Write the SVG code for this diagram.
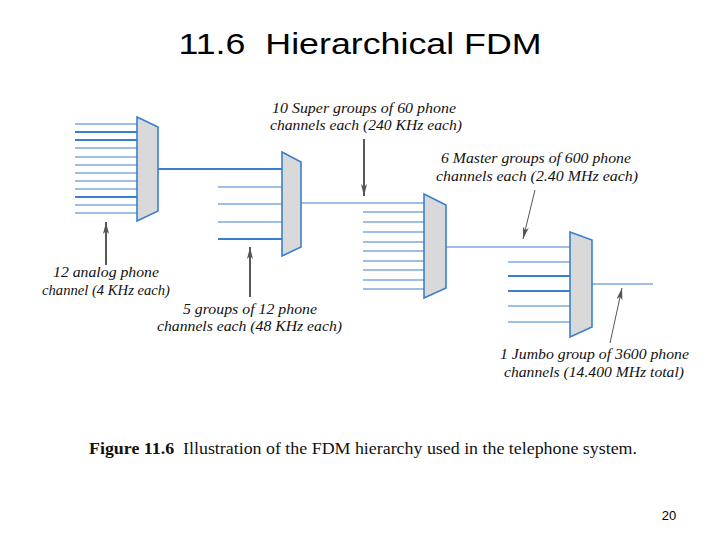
<svg xmlns="http://www.w3.org/2000/svg" width="720" height="540" viewBox="0 0 720 540">
<defs>
<style>
.ch{stroke:#3a7fcf;stroke-width:1.2;fill:none}
.thk{stroke-width:2.2}
.mux{fill:#d9d9d9;stroke:#3a7fcf;stroke-width:1.6}
.lbl{font-family:"Liberation Serif","Times New Roman",serif;font-style:italic;font-size:14.5px;fill:#111}
.arr{stroke:#111;stroke-width:1.4;fill:none}
.arrg{stroke:#555;stroke-width:1;fill:none}
</style>
<marker id="ah" viewBox="0 0 12 6" refX="12" refY="3" markerWidth="12" markerHeight="6" markerUnits="userSpaceOnUse" orient="auto">
<path d="M0,0 L12,3 L0,6 L3,3 z" fill="#555"/>
</marker>
</defs>
<rect width="720" height="540" fill="#fff"/>
<text xml:space="preserve" x="360" y="54" text-anchor="middle" font-family="Liberation Sans, Arial, sans-serif" font-size="30" textLength="363" lengthAdjust="spacingAndGlyphs" fill="#000">11.6  Hierarchical FDM</text>

<g id="connectors">
<line class="ch" x1="75" y1="124" x2="137" y2="124"/>
<line class="ch thk" x1="75" y1="132" x2="137" y2="132"/>
<line class="ch thk" x1="75" y1="140" x2="137" y2="140"/>
<line class="ch" x1="75" y1="148" x2="137" y2="148"/>
<line class="ch" x1="75" y1="157" x2="137" y2="157"/>
<line class="ch" x1="75" y1="165" x2="137" y2="165"/>
<line class="ch" x1="75" y1="173" x2="137" y2="173"/>
<line class="ch" x1="75" y1="181" x2="137" y2="181"/>
<line class="ch" x1="75" y1="189" x2="137" y2="189"/>
<line class="ch thk" x1="75" y1="197" x2="137" y2="197"/>
<line class="ch" x1="75" y1="205" x2="137" y2="205"/>
<line class="ch" x1="75" y1="213" x2="137" y2="213"/>
<line class="ch thk" x1="158" y1="169" x2="282" y2="169"/>
<line class="ch" x1="218" y1="187" x2="282" y2="187"/>
<line class="ch" x1="218" y1="204" x2="282" y2="204"/>
<line class="ch" x1="218" y1="222" x2="282" y2="222"/>
<line class="ch thk" x1="218" y1="239" x2="282" y2="239"/>
<line class="ch" x1="301" y1="203" x2="424" y2="203"/>
<line class="ch" x1="363" y1="212" x2="424" y2="212"/>
<line class="ch" x1="363" y1="222" x2="424" y2="222"/>
<line class="ch" x1="363" y1="232" x2="424" y2="232"/>
<line class="ch" x1="363" y1="242" x2="424" y2="242"/>
<line class="ch" x1="363" y1="251" x2="424" y2="251"/>
<line class="ch" x1="363" y1="261" x2="424" y2="261"/>
<line class="ch" x1="363" y1="270" x2="424" y2="270"/>
<line class="ch" x1="363" y1="280" x2="424" y2="280"/>
<line class="ch" x1="363" y1="289" x2="424" y2="289"/>
<line class="ch" x1="446" y1="247" x2="570" y2="247"/>
<line class="ch" x1="508" y1="262" x2="570" y2="262"/>
<line class="ch thk" x1="508" y1="276" x2="570" y2="276"/>
<line class="ch thk" x1="508" y1="291" x2="570" y2="291"/>
<line class="ch" x1="508" y1="306" x2="570" y2="306"/>
<line class="ch" x1="508" y1="322" x2="570" y2="322"/>
<line class="ch" x1="592" y1="284" x2="653" y2="284"/>
<line class="arr" x1="364" y1="139" x2="364" y2="196" marker-end="url(#ah)"/>
<line class="arrg" x1="535" y1="190" x2="523" y2="239" marker-end="url(#ah)"/>
<line class="arrg" x1="610" y1="343" x2="622" y2="288" marker-end="url(#ah)"/>
<line class="arr" x1="106" y1="265" x2="106" y2="222" marker-end="url(#ah)"/>
<line class="arr" x1="250" y1="297" x2="250" y2="247" marker-end="url(#ah)"/>
</g>

<g id="mux1"><polygon class="mux" points="137,117 158,127 158,211 137,221"/></g>
<g id="mux2"><polygon class="mux" points="282,152 301,162 301,247 282,256"/></g>
<g id="mux3"><polygon class="mux" points="424,194 446,205 446,288 424,298"/></g>
<g id="mux4"><polygon class="mux" points="570,232 592,240 592,327 570,337"/></g>

<g id="label-super">
<text class="lbl" x="272" y="113" textLength="184" lengthAdjust="spacingAndGlyphs">10 Super groups of 60 phone</text>
<text class="lbl" x="270" y="130" textLength="192" lengthAdjust="spacingAndGlyphs">channels each (240 KHz each)</text>
</g>
<g id="label-master">
<text class="lbl" x="441" y="163" textLength="190" lengthAdjust="spacingAndGlyphs">6 Master groups of 600 phone</text>
<text class="lbl" x="436" y="181" textLength="202" lengthAdjust="spacingAndGlyphs">channels each (2.40 MHz each)</text>
</g>
<g id="label-jumbo">
<text class="lbl" x="500" y="359" textLength="189" lengthAdjust="spacingAndGlyphs">1 Jumbo group of 3600 phone</text>
<text class="lbl" x="504" y="377" textLength="180" lengthAdjust="spacingAndGlyphs">channels (14.400 MHz total)</text>
</g>
<g id="label-analog">
<text class="lbl" x="53" y="277" textLength="106" lengthAdjust="spacingAndGlyphs">12 analog phone</text>
<text class="lbl" x="42" y="295" textLength="128" lengthAdjust="spacingAndGlyphs">channel (4 KHz each)</text>
</g>
<g id="label-groups">
<text class="lbl" x="183" y="314" textLength="134" lengthAdjust="spacingAndGlyphs">5 groups of 12 phone</text>
<text class="lbl" x="157" y="331" textLength="185" lengthAdjust="spacingAndGlyphs">channels each (48 KHz each)</text>
</g>

<text xml:space="preserve" x="89" y="454" font-family="Liberation Serif, Times New Roman, serif" font-size="16" fill="#111" textLength="548" lengthAdjust="spacingAndGlyphs"><tspan font-weight="bold">Figure 11.6</tspan>  Illustration of the FDM hierarchy used in the telephone system.</text>
<text x="669" y="520" text-anchor="middle" font-family="Liberation Sans, Arial, sans-serif" font-size="13" fill="#000">20</text>
</svg>
